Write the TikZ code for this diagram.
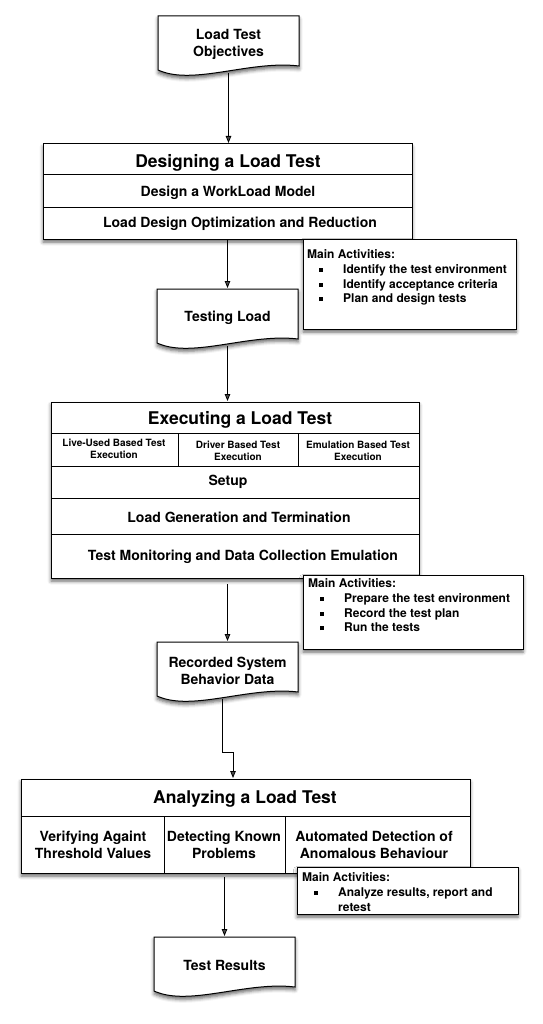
\documentclass[tikz,border=0pt]{standalone}
\usepackage{fontspec}
\setmainfont{TeX Gyre Heros}
\usetikzlibrary{arrows.meta,shadows.blur}

\tikzset{
	softshadow/.style={blur shadow={shadow xshift=0pt,shadow yshift=-3pt,shadow blur radius=3.5pt,shadow opacity=60}},
	box/.style={draw,line width=1pt,fill=white,inner sep=0pt,outer sep=0pt,softshadow},
	notebox/.style={draw,line width=0.9pt,fill=white,inner sep=0pt,outer sep=0pt,softshadow},
	docline/.style={draw,line width=1pt,fill=white,softshadow},
	doc/.style={inner sep=0pt,outer sep=0pt,minimum width=141pt,minimum height=57pt,txt},
	head/.style={font=\fontsize{17.5}{20}\selectfont\bfseries},
	txt/.style={font=\fontsize{14}{17}\selectfont\bfseries,align=center},
	small/.style={font=\fontsize{10}{12}\selectfont\bfseries,align=center},
	note/.style={font=\fontsize{12}{14.7}\selectfont\bfseries,align=left,anchor=north west,inner sep=0pt},
	divider/.style={line width=1pt},
	arr/.style={-{Triangle[width=5.5pt,length=7pt]},line width=0.8pt,shorten >=1pt},
}

% name, top left corner, text
\newcommand\docnode[3]{%
	\coordinate (#1-c) at #2;
	\draw[docline] (#1-c) -- ++(0,54) .. controls +(35,16) and +(-49,-6) .. ++(141,-4) -- ++(0,-50) -- cycle;
	\node[doc,anchor=north west] (#1) at (#1-c) {#3};
}
\newcommand\maitem[1]{\hspace*{12pt}\rule[1.5pt]{4pt}{4pt}\hspace*{20pt}#1}

\begin{document}
\begin{tikzpicture}[x=1pt,y=-1pt]
	\useasboundingbox (0,0) rectangle (542,1024);

	\docnode{obj}{(158,16)}{Load Test\\Objectives}

	% designing
	\node[box,minimum width=369pt,minimum height=95pt] (des) at (227.5,191.5) {};
	\draw[divider] (43,175) -- (412,175);
	\draw[divider] (43,208) -- (412,208);
	\node[head] (desT) at (228,163) {Designing a Load Test};
	\node[txt]  (desA) at (228,193) {Design a WorkLoad Model};
	\node[txt]  (desB) at (240,224) {Load Design Optimization and Reduction};

	\node[notebox,minimum width=213pt,minimum height=90pt] (maA) at (409.5,284) {};
	\node[note] (maAT) at (307,249.5) {Main Activities:\\
		\maitem{Identify the test environment}\\
		\maitem{Identify acceptance criteria}\\
		\maitem{Plan and design tests}};

	\docnode{tst}{(157,289)}{Testing Load}

	% executing
	\node[box,minimum width=368pt,minimum height=176pt] (exe) at (235,490) {};
	\draw[divider] ( 51,433) -- (419,433);
	\draw[divider] ( 51,466) -- (419,466);
	\draw[divider] ( 51,498) -- (419,498);
	\draw[divider] ( 51,534) -- (419,534);
	\draw[divider] (178,433) -- (178,466);
	\draw[divider] (298,433) -- (298,466);
	\node[head]  (exeT) at (240,420) {Executing a Load Test};
	\node[small] (exeA) at (114,449) {Live-Used Based Test\\Execution};
	\node[small] (exeB) at (238,451) {Driver Based Test\\Execution};
	\node[small] (exeC) at (358,451) {Emulation Based Test\\Execution};
	\node[txt]   (exeD) at (228,482) {Setup};
	\node[txt]   (exeE) at (239,517) {Load Generation and Termination};
	\node[txt]   (exeF) at (243,557) {Test Monitoring and Data Collection Emulation};

	\node[notebox,minimum width=220pt,minimum height=74pt] (maB) at (413,612) {};
	\node[note] (maBT) at (308,578.5) {Main Activities:\\
		\maitem{Prepare the test environment}\\
		\maitem{Record the test plan}\\
		\maitem{Run the tests}};

	\docnode{rec}{(157,642)}{Recorded System\\Behavior Data}

	% analyzing
	\node[box,minimum width=449pt,minimum height=94pt] (ana) at (245.5,826) {};
	\draw[divider] ( 21,816) -- (470,816);
	\draw[divider] (164,816) -- (164,873);
	\draw[divider] (285,816) -- (285,873);
	\node[head] (anaT) at (245,799) {Analyzing a Load Test};
	\node[txt]  (anaA) at ( 93,845) {Verifying Againt\\Threshold Values};
	\node[txt]  (anaB) at (224,845) {Detecting Known\\Problems};
	\node[txt]  (anaC) at (374,845) {Automated Detection of\\Anomalous Behaviour};

	\node[notebox,minimum width=221pt,minimum height=47pt] (maC) at (407.5,890.5) {};
	\node[note] (maCT) at (302,872.5) {Main Activities:\\
		\maitem{Analyze results, report and}\\
		\hspace*{36pt}retest};

	\docnode{res}{(154,937)}{Test Results}

	% connectors
	\coordinate (bend) at (233,752);
	\draw[arr] (obj.south) -- (obj.south |- des.north);
	\draw[arr] (tst.north |- des.south) -- (tst.north);
	\draw[arr] (tst.south) -- (tst.south |- exe.north);
	\draw[arr,shorten <=6pt] (rec.north |- exe.south) -- (rec.north);
	\draw[arr] ([xshift=-5.5pt]rec.south) |- (bend) -- (bend |- ana.north);
	\draw[arr,shorten <=4pt] (res.north |- ana.south) -- (res.north);
\end{tikzpicture}
\end{document}
